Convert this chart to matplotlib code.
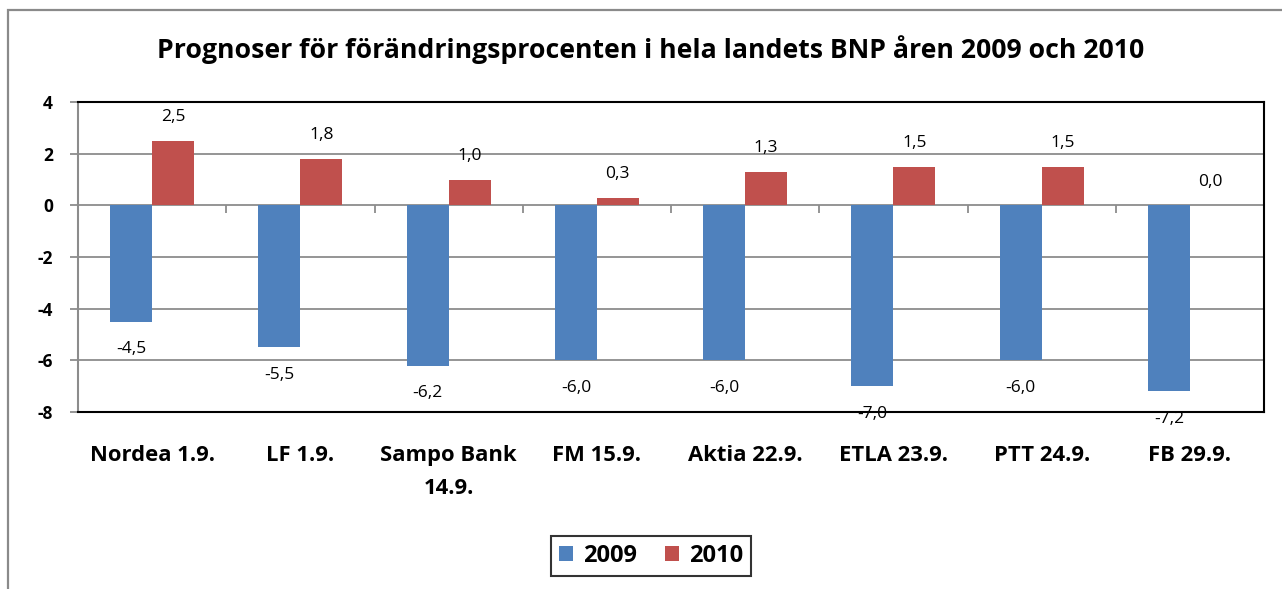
import matplotlib
matplotlib.use("Agg")
import matplotlib.pyplot as plt
import matplotlib.patches as mpatches
import numpy as np

plt.rcParams['font.family'] = ['Open Sans', 'DejaVu Sans']

categories = ['Nordea 1.9.', 'LF 1.9.', 'Sampo Bank\n14.9.', 'FM 15.9.',
              'Aktia 22.9.', 'ETLA 23.9.', 'PTT 24.9.', 'FB 29.9.']
bnp_2009 = [-4.5, -5.5, -6.2, -6.0, -6.0, -7.0, -6.0, -7.2]
bnp_2010 = [2.5, 1.8, 1.0, 0.3, 1.3, 1.5, 1.5, 0.0]
yticks = [-8, -6, -4, -2, 0, 2, 4]

BLUE = '#4F81BD'
RED = '#C0504D'
GRID = '#8c8c8c'

fig = plt.figure(figsize=(12.82, 5.89), dpi=100)
ax = fig.add_axes([78/1282, 1 - 412/589, (1264 - 78)/1282, (412 - 102)/589])

# outer chart frame (cut off at right/bottom like the screenshot)
fig.add_artist(mpatches.Rectangle((8/1282, -0.1), 1.2, 1 - 10/589 + 0.1,
                                  transform=fig.transFigure, fill=False,
                                  edgecolor='#8a8a8a', linewidth=1.6, clip_on=False))

x = np.arange(len(categories))
w = 0.283
b1 = ax.bar(x - w/2, bnp_2009, w, color=BLUE, label='2009', zorder=3)
b2 = ax.bar(x + w/2, bnp_2010, w, color=RED, label='2010', zorder=3)

def fmt(v):
    return ('%.1f' % v).replace('.', ',')

for xi, v in zip(x - w/2, bnp_2009):
    ax.annotate(fmt(v), (xi, v), xytext=(0, -20), textcoords='offset points',
                ha='center', va='center', fontsize=12.5, annotation_clip=False, zorder=5)
for xi, v in zip(x + w/2, bnp_2010):
    ax.annotate(fmt(v), (xi, v), xytext=(0, 17), textcoords='offset points',
                ha='center', va='center', fontsize=12.5, annotation_clip=False, zorder=5)

ax.set_xlim(-0.5, len(categories) - 0.5)
ax.set_ylim(-8, 4)
ax.set_yticks(yticks)
ax.set_yticklabels([str(t) for t in yticks], fontweight='bold', fontsize=12.5)
for t in [-6, -4, -2, 0, 2]:
    ax.axhline(t, color=GRID, linewidth=1.3, zorder=1)

# category boundary ticks on the zero line
ax.vlines(x[:-1] + 0.5, -0.3, 0, color=GRID, linewidth=1.3, zorder=2)

ax.set_xticks(x)
ax.set_xticklabels(categories, fontweight='bold', fontsize=15.8, va='top', linespacing=1.7)
ax.tick_params(axis='x', length=0, pad=24)
ax.tick_params(axis='y', length=6, color=GRID, width=1.3, pad=12)

for s in ['top', 'right', 'bottom']:
    ax.spines[s].set_color('black')
    ax.spines[s].set_linewidth(1.5)
ax.spines['left'].set_color(GRID)
ax.spines['left'].set_linewidth(1.5)

fig.text(651/1282, 1 - 50/589, 'Prognoser för förändringsprocenten i hela landets BNP åren 2009 och 2010',
         ha='center', va='center', fontsize=19.2, fontweight='bold')

leg = fig.legend(handles=[b1, b2], loc='center', bbox_to_anchor=(651/1282, 1 - 556/589),
                 ncol=2, prop={'weight': 'bold', 'size': 17}, frameon=True, fancybox=False,
                 edgecolor='black', handlelength=0.6, handleheight=0.6, handletextpad=0.4,
                 columnspacing=1.2, borderpad=0.35)
leg.get_frame().set_linewidth(1.5)

fig.savefig('out.png', dpi=100)
